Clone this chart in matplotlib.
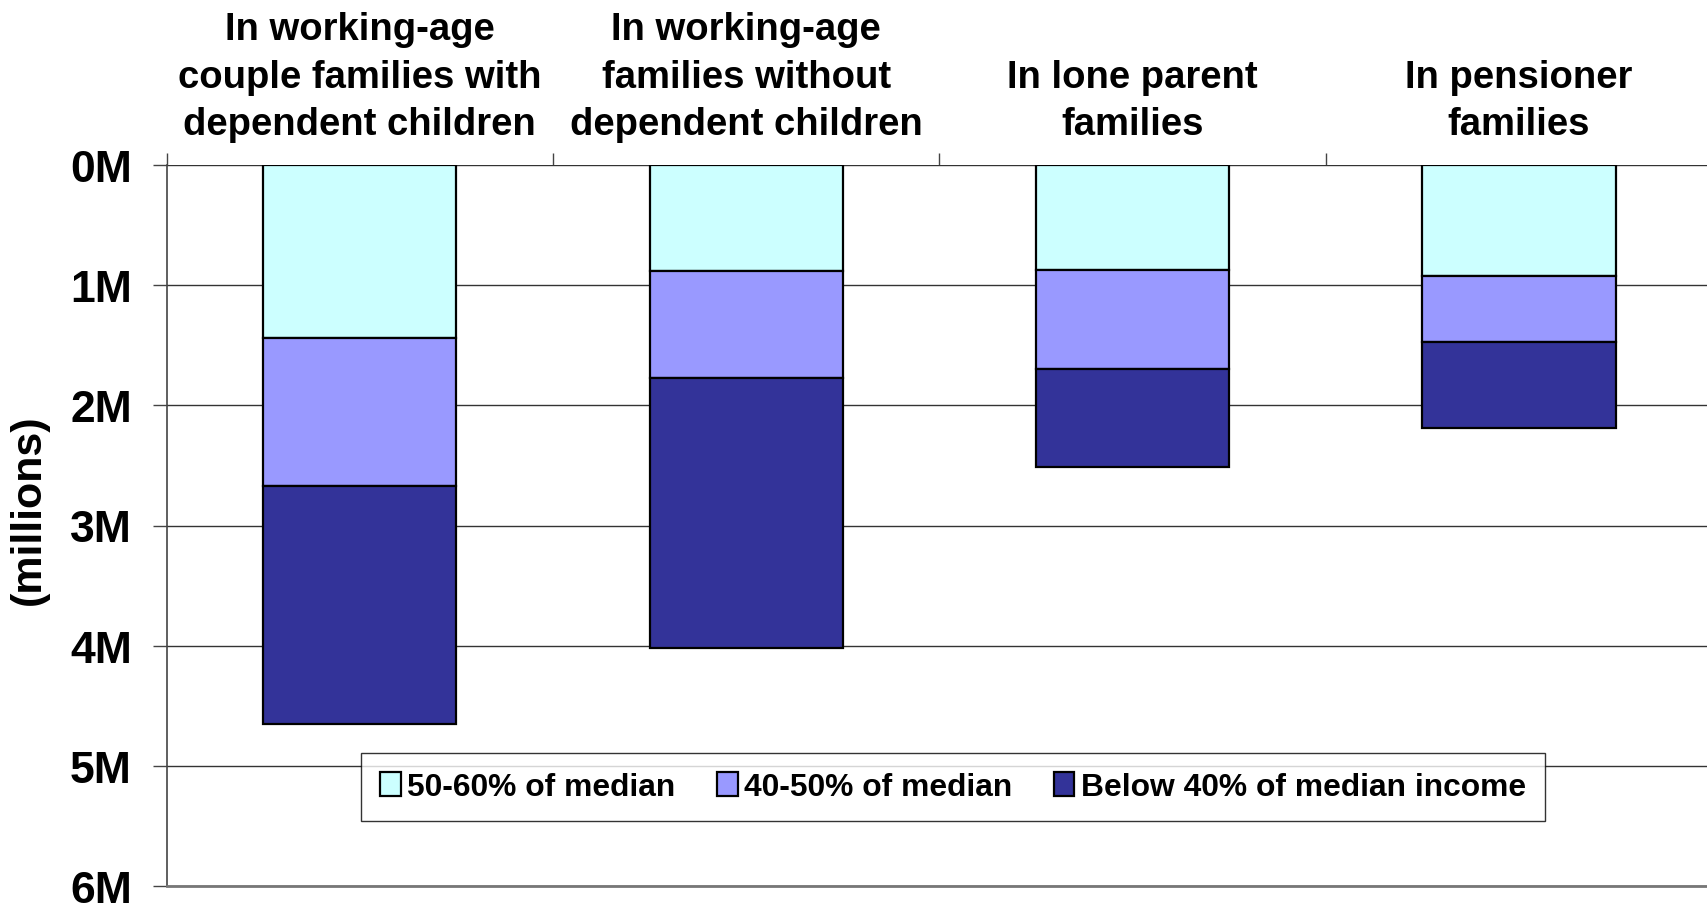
import matplotlib
matplotlib.use("Agg")
import matplotlib.pyplot as plt
import numpy as np

plt.rcParams['font.family'] = ['Liberation Sans', 'DejaVu Sans']
plt.rcParams['font.weight'] = 'bold'

# data (millions of people below the thresholds)
categories = ["In working-age\ncouple families with\ndependent children",
              "In working-age\nfamilies without\ndependent children",
              "In lone parent\nfamilies",
              "In pensioner\nfamilies"]
series_names = ["50-60% of median", "40-50% of median", "Below 40% of median income"]
band_50_60 = [1.44, 0.88, 0.87, 0.92]
band_40_50 = [1.23, 0.895, 0.83, 0.555]
band_below_40 = [1.98, 2.245, 0.81, 0.71]
y_ticks = [0, 1, 2, 3, 4, 5, 6]
y_tick_labels = ["0M", "1M", "2M", "3M", "4M", "5M", "6M"]

colors = ["#CCFFFF", "#9999FF", "#333399"]

fig = plt.figure(figsize=(17.07, 9.04), dpi=100)
ax = fig.add_axes([166.6 / 1707, 1 - 886.7 / 904, 1545.6 / 1707, 720.4 / 904])

x = np.arange(len(categories))
bottom = np.zeros(len(categories))
for vals, name, c in zip([band_50_60, band_40_50, band_below_40], series_names, colors):
    ax.bar(x, vals, width=0.5, bottom=bottom, color=c, edgecolor="black",
           linewidth=1.6, label=name, zorder=3)
    bottom += np.array(vals)

ax.set_xlim(-0.5, 3.5)
ax.set_ylim(6, 0)

# y axis
ax.set_yticks(y_ticks)
ax.set_yticklabels(y_tick_labels, fontsize=32, fontweight="bold")
ax.tick_params(axis="y", direction="out", length=10, width=1, color="#444444", pad=15)
ax.yaxis.grid(True, color="#333333", linewidth=1, zorder=0)

# categories on top
ax.xaxis.tick_top()
ax.set_xticks(x)
ax.set_xticklabels(categories, fontsize=27.5, fontweight="bold", linespacing=1.42)
ax.set_xticks(np.arange(-0.5, 4.0, 1.0), minor=True)
ax.tick_params(axis="x", which="major", length=0, pad=16.5)
ax.tick_params(axis="x", which="minor", top=True, bottom=False, direction="out",
               length=9, width=1, color="#444444")

for side in ["right", "top"]:
    ax.spines[side].set_visible(False)
ax.spines["left"].set_color("#444444")
ax.spines["left"].set_linewidth(1.2)
ax.spines["bottom"].set_color("#777777")
ax.spines["bottom"].set_linewidth(2)

fig.text(29 / 1707, 1 - 509.5 / 904, "(millions)", rotation=90, fontsize=31,
         fontweight="bold", ha="center", va="center")

leg = ax.legend(loc="center", bbox_to_anchor=(953 / 1707, 1 - 788 / 904),
                bbox_transform=fig.transFigure, ncol=3, fontsize=22.9,
                frameon=True, fancybox=False, handlelength=0.65, handleheight=0.8,
                handletextpad=0.2, columnspacing=1.3, borderpad=0.6,
                borderaxespad=0)
leg.get_frame().set_edgecolor("black")
leg.get_frame().set_linewidth(1)
for t in leg.get_texts():
    t.set_fontweight("bold")

fig.savefig("out.png", dpi=100)
